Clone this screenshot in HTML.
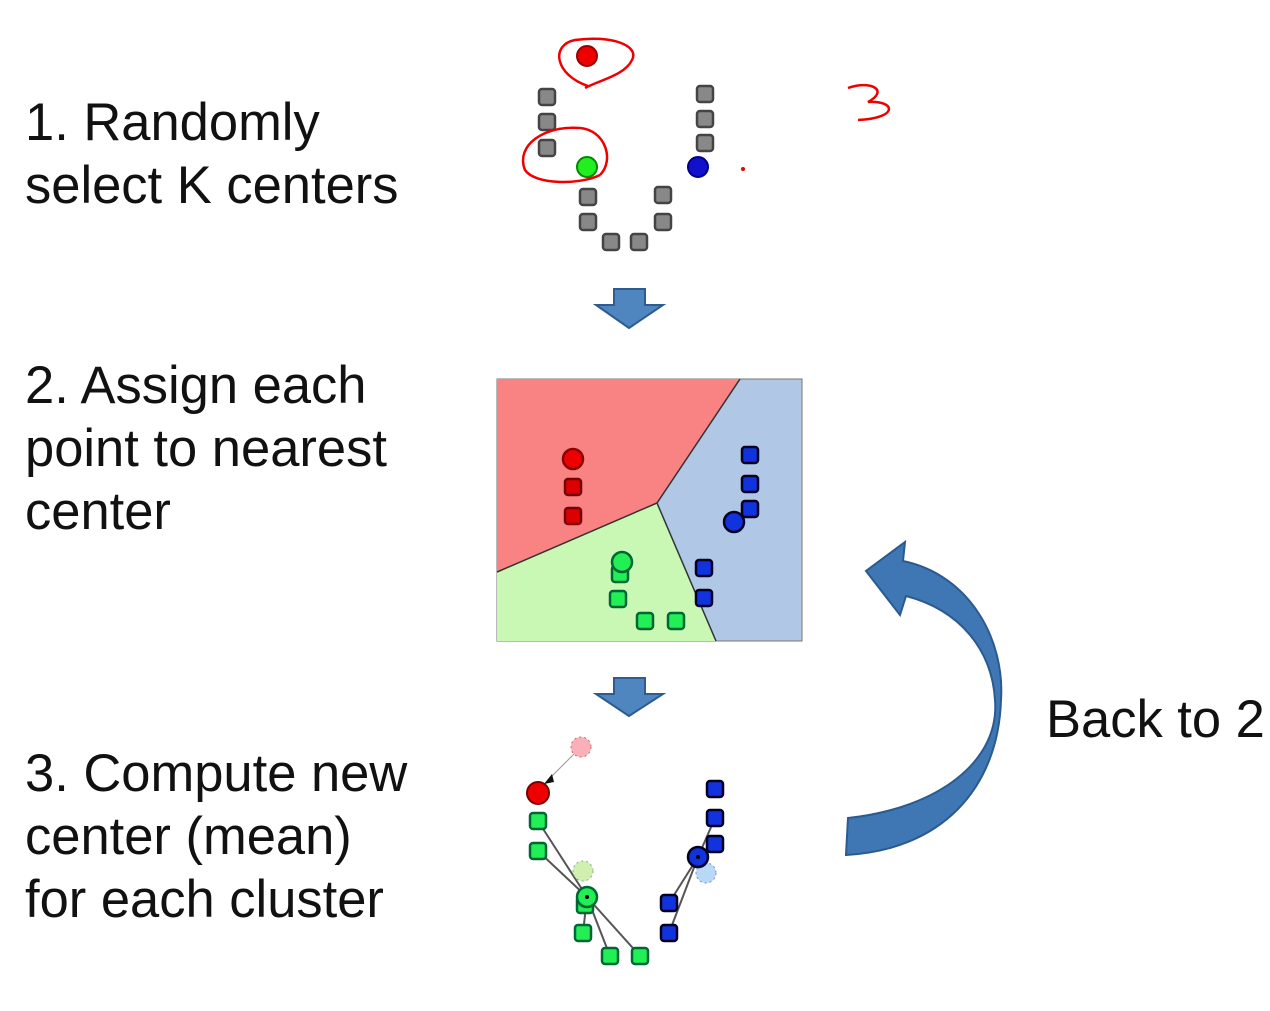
<!DOCTYPE html>
<html><head><style>
body{margin:0;width:1270px;height:1011px;background:#fff;overflow:hidden;position:relative;font-family:"Liberation Sans",sans-serif;}
.t{position:absolute;left:25px;font-size:52.5px;line-height:63px;color:#111;white-space:nowrap;}
</style></head><body>
<div class="t" style="top:91px">1. Randomly<br>select K centers</div>
<div class="t" style="top:354px">2. Assign each<br>point to nearest<br>center</div>
<div class="t" style="top:742px">3. Compute new<br>center (mean)<br>for each cluster</div>
<div class="t" style="left:1046px;top:688px">Back to 2</div>
<svg width="1270" height="1011" style="position:absolute;left:0;top:0">
<defs>
<g id="sq"><rect x="-8" y="-8" width="16" height="16" rx="3" stroke-width="2.5"/></g>
</defs>
<g fill="#888" stroke="#444">
<use href="#sq" x="547" y="97"/><use href="#sq" x="547" y="122"/><use href="#sq" x="547" y="148"/>
<use href="#sq" x="705" y="94"/><use href="#sq" x="705" y="119"/><use href="#sq" x="705" y="143"/>
<use href="#sq" x="588" y="197"/><use href="#sq" x="588" y="222"/><use href="#sq" x="611" y="242"/>
<use href="#sq" x="639" y="242"/><use href="#sq" x="663" y="195"/><use href="#sq" x="663" y="222"/>
</g>
<circle cx="587" cy="56" r="10" fill="#e00" stroke="#900" stroke-width="2"/>
<circle cx="587" cy="167" r="10" fill="#2e2" stroke="#080" stroke-width="2"/>
<circle cx="698" cy="167" r="10" fill="#11c" stroke="#008" stroke-width="2"/>
<g fill="none" stroke="#e00" stroke-width="2.5">
<path d="M588 86 C555 75 550 45 575 40 C610 35 640 45 632 60 C625 75 600 80 585 88"/>
<path d="M600 175 C615 160 605 130 580 128 C545 125 515 145 525 170 C535 185 580 185 600 175"/>
<path d="M848 88 C870 80 890 90 868 102 C895 100 900 118 858 120"/>
</g>
<circle cx="743" cy="169" r="2" fill="#e00"/>
<path d="M614 289 H645 V305 H663 L629 328 L596 305 H614 Z" fill="#4f86c0" stroke="#2e5c90" stroke-width="2"/>
<path d="M614 678 H645 V694 H663 L629 716 L596 694 H614 Z" fill="#4f86c0" stroke="#2e5c90" stroke-width="2"/>
<rect x="497" y="379" width="305" height="262" fill="#b0c8e6" stroke="#777"/>
<path d="M497 379 H740 L657 503 L497 572 Z" fill="#f98282"/>
<path d="M497 572 L657 503 L716 641 H497 Z" fill="#c8f8b4"/>
<path d="M740 379 L657 503 L497 572 M657 503 L716 641" fill="none" stroke="#333" stroke-width="1.5"/>
<g fill="#d00" stroke="#700"><use href="#sq" x="573" y="487"/><use href="#sq" x="573" y="516"/></g>
<circle cx="573" cy="459" r="10" fill="#e00" stroke="#800" stroke-width="2.5"/>
<g fill="#1133dd" stroke="#002"><use href="#sq" x="750" y="455"/><use href="#sq" x="750" y="484"/><use href="#sq" x="750" y="509"/><use href="#sq" x="704" y="568"/><use href="#sq" x="704" y="598"/></g>
<circle cx="734" cy="522" r="10" fill="#1133dd" stroke="#002" stroke-width="2.5"/>
<g fill="#2e5" stroke="#063"><use href="#sq" x="620" y="574"/><use href="#sq" x="618" y="599"/><use href="#sq" x="645" y="621"/><use href="#sq" x="676" y="621"/></g>
<circle cx="622" cy="562" r="10" fill="#2e5" stroke="#063" stroke-width="2.5"/>
<g stroke="#555" stroke-width="2">
<line x1="538" y1="821" x2="587" y2="897"/><line x1="538" y1="851" x2="587" y2="897"/>
<line x1="583" y1="933" x2="587" y2="897"/><line x1="610" y1="956" x2="587" y2="897"/><line x1="640" y1="956" x2="587" y2="897"/>
<line x1="715" y1="818" x2="698" y2="857"/><line x1="715" y1="844" x2="698" y2="857"/>
<line x1="669" y1="903" x2="698" y2="857"/><line x1="669" y1="933" x2="698" y2="857"/>
<line x1="581" y1="747" x2="548" y2="780" stroke="#999" stroke-width="1"/>
</g>
<path d="M552 774 L544 784 L554 782 Z" fill="#111"/>
<circle cx="581" cy="747" r="10" fill="#f9b0b8" stroke="#c66" stroke-dasharray="2 3"/>
<circle cx="583" cy="871" r="10" fill="#d0f0b0" stroke="#8a8" stroke-dasharray="2 3"/>
<circle cx="706" cy="873" r="10" fill="#b8d8f8" stroke="#88a" stroke-dasharray="2 3"/>
<circle cx="538" cy="793" r="11" fill="#e00" stroke="#700" stroke-width="2"/>
<g fill="#2e5" stroke="#063"><use href="#sq" x="538" y="821"/><use href="#sq" x="538" y="851"/><use href="#sq" x="585" y="905"/><use href="#sq" x="583" y="933"/><use href="#sq" x="610" y="956"/><use href="#sq" x="640" y="956"/></g>
<circle cx="587" cy="897" r="10" fill="#2e5" stroke="#063" stroke-width="2.5"/><circle cx="587" cy="897" r="2" fill="#000"/>
<g fill="#1133dd" stroke="#002"><use href="#sq" x="715" y="789"/><use href="#sq" x="715" y="818"/><use href="#sq" x="715" y="844"/><use href="#sq" x="669" y="903"/><use href="#sq" x="669" y="933"/></g>
<circle cx="698" cy="857" r="10" fill="#1133dd" stroke="#002" stroke-width="2.5"/><circle cx="698" cy="857" r="2" fill="#000"/>
<path d="M848 818 C940 808 1000 760 995 700 C992 650 960 610 906 596 L900 615 L866 571 L905 542 L903 561 C970 575 1005 640 1001 700 C998 790 940 850 846 855 Z" fill="#3f77b5" stroke="#2a5a90" stroke-width="2"/>
</svg>
</body></html>
